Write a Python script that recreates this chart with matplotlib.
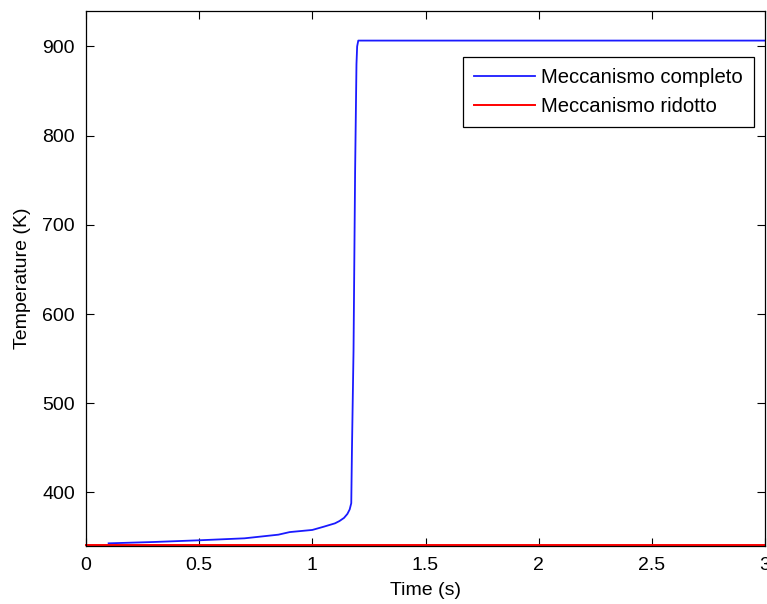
import matplotlib
matplotlib.use("Agg")
from matplotlib import pyplot as plt

plt.rcParams['font.family'] = ['Liberation Sans', 'DejaVu Sans']
plt.rcParams['font.size'] = 14

# Meccanismo completo
t_full = [0.1, 0.3, 0.5, 0.7, 0.85, 0.9, 1.0, 1.05, 1.1, 1.12, 1.14, 1.155,
          1.165, 1.172, 1.175, 1.182, 1.189, 1.195, 1.198, 1.203, 3.0]
T_full = [343, 344.5, 346.4, 348.6, 352.7, 355.6, 358, 361.6, 365.4, 368,
          371.5, 376, 381, 388, 447, 559, 760, 880, 900, 906.5, 906.5]

# Meccanismo ridotto
t_red = [0.0, 3.0]
T_red = [340.6, 340.6]

labels = ["Meccanismo completo", "Meccanismo ridotto"]

fig = plt.figure(figsize=(7.67, 6.04), dpi=100)
ax = fig.add_axes([86 / 767, 58 / 604, 679 / 767, 535.3 / 604])

ax.plot(t_full, T_full, color=(0.1, 0.1, 1.0), lw=1.3, label=labels[0])
ax.plot(t_red, T_red, color=(1.0, 0.0, 0.0), lw=1.4, label=labels[1], clip_on=False)

ax.set_xlim(0, 3)
ax.set_ylim(340, 940)
ax.set_xticks([0, 0.5, 1, 1.5, 2, 2.5, 3])
ax.set_xticklabels(["0", "0.5", "1", "1.5", "2", "2.5", "3"])
ax.set_yticks([400, 500, 600, 700, 800, 900])

ax.tick_params(direction='in', length=6, width=0.8, top=True, right=True, pad=8)
for s in ax.spines.values():
    s.set_linewidth(0.9)

ax.set_xlabel("Time (s)", labelpad=6)
ax.set_ylabel("Temperature (K)", labelpad=8)

leg = ax.legend(loc='upper right', bbox_to_anchor=(0.9838, 0.9135),
                borderaxespad=0, fancybox=False, edgecolor='black',
                framealpha=1, handlelength=3.0, handletextpad=0.3,
                borderpad=0.55, labelspacing=0.5, fontsize=14.6)
leg.get_frame().set_linewidth(0.9)

fig.savefig("out.png", dpi=100)
